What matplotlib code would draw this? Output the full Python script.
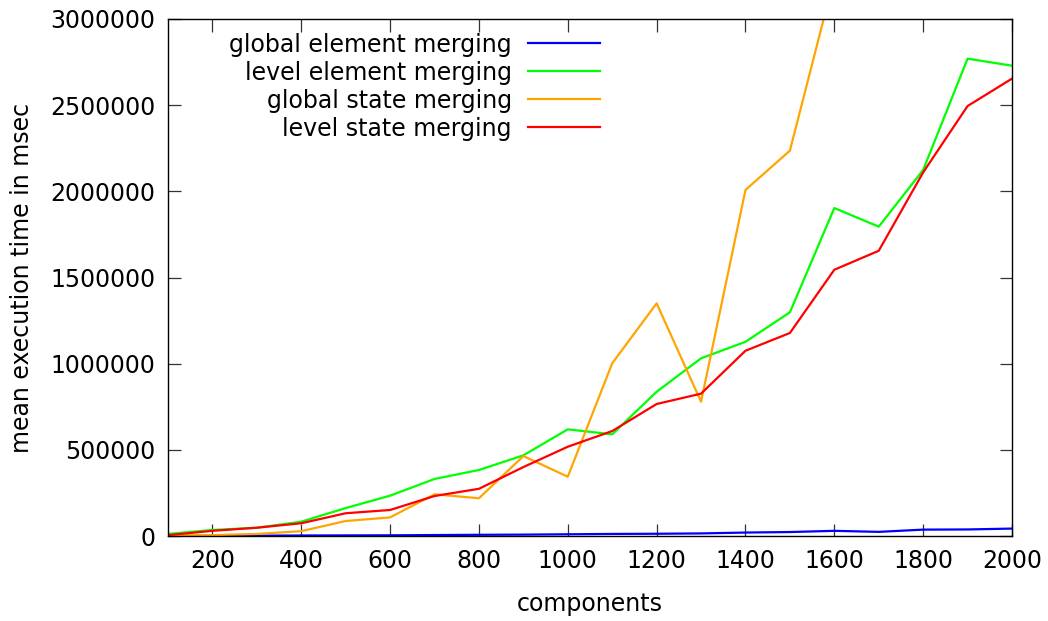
import numpy as np
import matplotlib
matplotlib.use("Agg")
import matplotlib.pyplot as plt
from matplotlib.ticker import FixedLocator, FuncFormatter

# components (x axis)
components = list(range(100, 2100, 100))

# mean execution time in msec
global_element = [500, 1000, 2000, 3000, 3500, 4000, 5500, 7000, 8000, 10000,
                  12000, 13000, 15000, 20000, 23000, 30000, 24000, 37000, 38000, 43000]
level_element = [12000, 35000, 48000, 83000, 162000, 234000, 331000, 383000, 468000, 619000,
                 590000, 837000, 1031000, 1127000, 1298000, 1903000, 1795000, 2124000, 2770000, 2729000]
global_state = [2000, 5000, 12000, 28000, 87000, 108000, 242000, 219000, 464000, 344000,
                1002000, 1350000, 779000, 2008000, 2236000, 3240000, 3600000, 3900000, 4300000, 4700000]
level_state = [5000, 30000, 48000, 74000, 132000, 151000, 232000, 274000, 400000, 518000,
               609000, 766000, 826000, 1075000, 1178000, 1545000, 1655000, 2110000, 2495000, 2654000]

labels = ["global element merging", "level element merging",
          "global state merging", "level state merging"]
colors = ["#0000ff", "#00ff00", "#ffa500", "#ff0000"]

plt.rcParams['font.family'] = ['DejaVu Sans']
fig = plt.figure(figsize=(10.48, 6.21), dpi=100)
ax = fig.add_axes([168/1048, 1 - 536/621, 844/1048, 517/621])

for series, lab, col in zip([global_element, level_element, global_state, level_state], labels, colors):
    ax.plot(components, series, color=col, lw=1.6, label=lab)

ax.set_xlim(100, 2000)
ax.set_ylim(0, 3000000)
ax.xaxis.set_major_locator(FixedLocator(range(200, 2001, 200)))
ax.yaxis.set_major_locator(FixedLocator(range(0, 3000001, 500000)))
ax.yaxis.set_major_formatter(FuncFormatter(lambda v, p: "%d" % v))
ax.tick_params(direction='in', length=9, width=0.9, color='#333333', labelsize=17,
               top=True, right=True, pad=9)
for s in ax.spines.values():
    s.set_linewidth(1)

ax.set_xlabel("components", fontsize=17, labelpad=14)
ax.set_ylabel("mean execution time in msec", fontsize=17, labelpad=12)

# gnuplot-style key: text right-aligned, sample line after it
leg = ax.legend(loc='upper right', bbox_to_anchor=(0.534, 1.01), frameon=False, markerfirst=False,
                fontsize=17, handlelength=3.05, handletextpad=0.68, labelspacing=0.17, borderpad=0.3)

fig.savefig("out.png", dpi=100)
